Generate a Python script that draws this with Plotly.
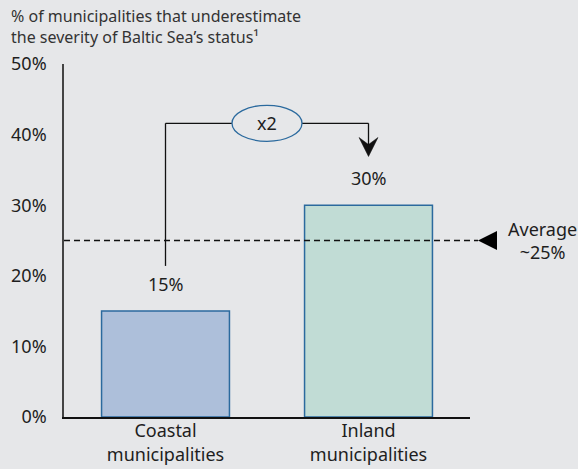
import plotly.graph_objects as go

# Share of municipalities underestimating the Baltic Sea's status
categories = ["Coastal municipalities", "Inland municipalities"]
values = [15, 30]
value_labels = ["15%", "30%"]
average = 25
average_label = "Average<br>~25%"
ratio_label = "x2"
y_ticks = [0, 10, 20, 30, 40, 50]
y_tick_labels = ["0%", "10%", "20%", "30%", "40%", "50%"]

BG = "#e6e7e9"
TEXT = "#1e1e1e"
EDGE = "#2b6a9e"
FONT = "Noto Sans"

fig = go.Figure()
fig.add_trace(go.Bar(
    x=categories,
    y=values,
    width=0.63,
    marker=dict(color=["#adbfda", "#c1dcd5"], line=dict(color=EDGE, width=1.5)),
    hoverinfo="skip",
))

# value labels above bars
for cat, v, lab in zip(categories, values, value_labels):
    fig.add_annotation(x=cat, y=v, text=lab, showarrow=False, yanchor="bottom",
                       yshift=13, font=dict(size=18, color=TEXT, family=FONT))

# connector between the two bars
conn_y = 41.6
tip_y = 36.9
fig.add_shape(type="line", xref="x", yref="y", x0=0, x1=0, y0=21.4, y1=conn_y,
              line=dict(color="#111", width=1.3))
fig.add_shape(type="line", xref="x", yref="y", x0=0, x1=1, y0=conn_y, y1=conn_y,
              line=dict(color="#111", width=1.3))
fig.add_shape(type="line", xref="x", yref="y", x0=1, x1=1, y0=conn_y, y1=tip_y + 1,
              line=dict(color="#111", width=1.3))
# stealth arrowhead pointing down at the inland bar
fig.add_shape(type="path", xref="x", yref="y", xsizemode="pixel", ysizemode="pixel",
              xanchor=1, yanchor=tip_y,
              path="M 0,0 L -9.5,19 L 0,12 L 9.5,19 Z",
              fillcolor="#111", line=dict(color="#111", width=0.5))
fig.add_shape(type="circle", xref="x", yref="y", xsizemode="pixel", ysizemode="pixel",
              xanchor=0.5, yanchor=conn_y, x0=-35, x1=35, y0=-18, y1=18,
              fillcolor=BG, line=dict(color=EDGE, width=1.3))
fig.add_annotation(x=0.5, y=conn_y, text=ratio_label, showarrow=False,
                   font=dict(size=18, color=TEXT, family=FONT))

# average reference line with pointer
fig.add_shape(type="line", xref="paper", yref="y", x0=0, x1=1.02, y0=average, y1=average,
              line=dict(color="#111", width=1.5, dash="6px,4px"))
fig.add_shape(type="path", xref="paper", yref="y",
              path=f"M 1.0197,{average} L 1.0665,{average + 1.35} L 1.0665,{average - 1.35} Z",
              fillcolor="#000", line=dict(color="#000", width=0))
fig.add_annotation(xref="paper", yref="y", x=1.0887, y=average, xanchor="left",
                   text=average_label, showarrow=False, align="center",
                   font=dict(size=18, color=TEXT, family=FONT))

# chart heading
fig.add_annotation(
    xref="paper", yref="paper", x=(9 - 64) / 406, y=1 + (64 - 3) / 353,
    xanchor="left", yanchor="top", align="left", showarrow=False,
    text="% of municipalities that underestimate<br>the severity of Baltic Sea’s status¹",
    font=dict(size=16, color="#333", family=FONT),
)

fig.update_layout(
    width=578, height=469,
    margin=dict(l=64, r=108, t=64, b=52),
    paper_bgcolor=BG, plot_bgcolor=BG,
    showlegend=False,
    font=dict(family=FONT, color=TEXT),
)
fig.update_xaxes(
    range=[-0.5, 1.5], showline=True, linecolor="#111", linewidth=1.5,
    showgrid=False, ticks="", automargin=False, ticklabelstandoff=-3,
    tickfont=dict(size=18, color=TEXT, family=FONT),
    tickvals=categories, ticktext=[c.replace(" ", "<br>", 1) for c in categories],
)
fig.update_yaxes(
    range=[0, 50], showline=True, linecolor="#444", linewidth=1.5,
    showgrid=False, zeroline=False, ticks="", automargin=False,
    tickvals=y_ticks, ticktext=y_tick_labels,
    tickfont=dict(size=18, color=TEXT, family=FONT), ticklabelstandoff=12,
)

fig.write_html("out.html")
